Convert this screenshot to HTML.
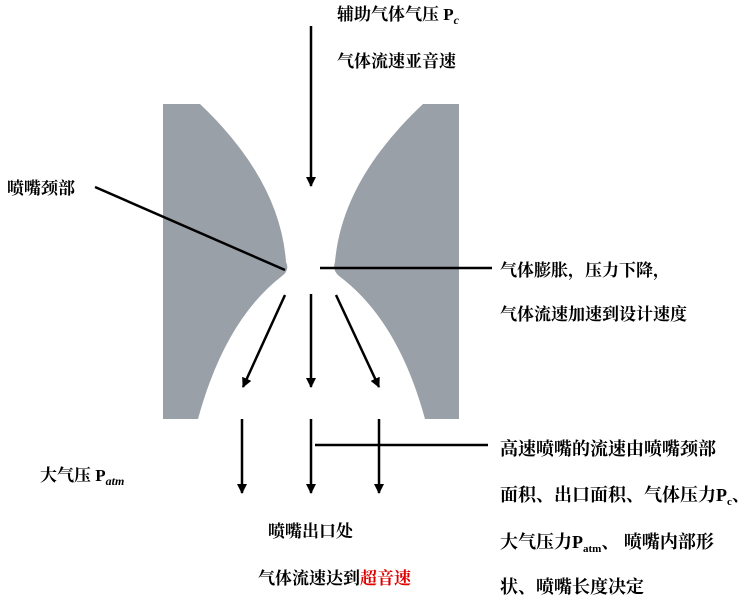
<!DOCTYPE html>
<html><head><meta charset="utf-8"><style>
html,body{margin:0;padding:0;background:#fff;}
svg{display:block;}
text{font-family:"Liberation Serif","Noto Serif CJK SC","Noto Sans CJK SC",serif;font-weight:bold;font-size:17px;fill:#000;}
.r{font-size:18px;}
</style></head><body>
<svg width="740" height="606" viewBox="0 0 740 606" xmlns="http://www.w3.org/2000/svg">
<defs>
<marker id="ah" markerWidth="10" markerHeight="10" refX="9" refY="5" orient="auto" markerUnits="userSpaceOnUse">
<path d="M0,0 L10,5 L0,10 Z" fill="#000"/>
</marker>
</defs>
<path d="M163,104 L200,104 Q280,180 286,262 Q290,270 282,276 Q225,320 198,419 L163,419 Z" fill="#9aa0a8"/>
<path d="M459,104 L423,104 Q342,180 335,262 Q332,270 339,276 Q398,320 425,419 L459,419 Z" fill="#9aa0a8"/>
<g stroke="#000" stroke-width="2.5" fill="none">
<line x1="311" y1="26" x2="311" y2="186" marker-end="url(#ah)"/>
<line x1="285" y1="295" x2="243" y2="387" marker-end="url(#ah)"/>
<line x1="311" y1="294" x2="311" y2="387" marker-end="url(#ah)"/>
<line x1="336" y1="295" x2="379" y2="387" marker-end="url(#ah)"/>
<line x1="242" y1="419" x2="242" y2="493" marker-end="url(#ah)"/>
<line x1="311" y1="419" x2="311" y2="493" marker-end="url(#ah)"/>
<line x1="379" y1="419" x2="379" y2="493" marker-end="url(#ah)"/>
<line x1="95" y1="187" x2="285" y2="270"/>
<line x1="320" y1="268" x2="492" y2="268"/>
<line x1="315" y1="445" x2="488" y2="445"/>
</g>
<text x="337" y="20">辅助气体气压 P<tspan font-size="12" dy="4" font-style="italic">c</tspan></text>
<text x="337" y="67">气体流速亚音速</text>
<text x="7" y="194">喷嘴颈部</text>
<text x="500" y="276">气体膨胀，压力下降，</text>
<text x="500" y="320">气体流速加速到设计速度</text>
<text x="40" y="481">大气压 P<tspan font-size="12" dy="4" font-style="italic">atm</tspan></text>
<text x="268" y="537">喷嘴出口处</text>
<text x="258" y="584">气体流速达到<tspan fill="#e00000">超音速</tspan></text>
<text class="r" x="500" y="455">高速喷嘴的流速由喷嘴颈部</text>
<text class="r" x="500" y="501">面积、出口面积、气体压力P<tspan font-size="11" dy="4">c</tspan><tspan dy="-4">、</tspan></text>
<text class="r" x="500" y="548">大气压力P<tspan font-size="11" dy="4">atm</tspan><tspan dy="-4">、 喷嘴内部形</tspan></text>
<text class="r" x="500" y="593">状、喷嘴长度决定</text>
</svg>
</body></html>
